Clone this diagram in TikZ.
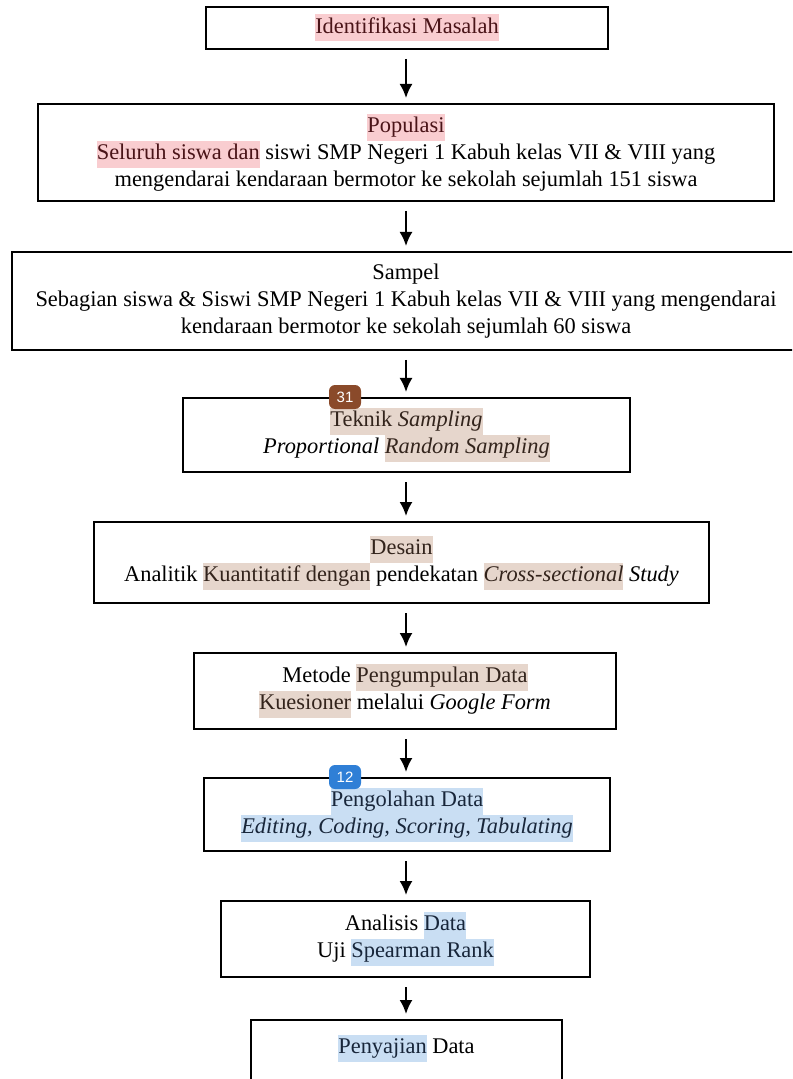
\documentclass[tikz,border=0pt]{standalone}
\usepackage{fontspec}
\setmainfont{Liberation Serif}
\setsansfont{Liberation Sans}
\usepackage{xcolor}
\usetikzlibrary{shapes,arrows.meta,positioning,fit}

\definecolor{markred}{HTML}{F9CDD0}
\definecolor{marktan}{HTML}{E6D6CC}
\definecolor{markblue}{HTML}{C9DEF3}
\definecolor{inkred}{HTML}{4A1418}
\definecolor{inktan}{HTML}{33241C}
\definecolor{inkblue}{HTML}{18263A}
\definecolor{badgebrown}{HTML}{8A4A2A}
\definecolor{badgeblue}{HTML}{2F7FD6}

\newcommand{\hlr}[1]{{\setlength{\fboxsep}{0pt}\colorbox{markred}{\strut\color{inkred}#1}}}
\newcommand{\hlt}[1]{{\setlength{\fboxsep}{0pt}\colorbox{marktan}{\strut\color{inktan}#1}}}
\newcommand{\hlb}[1]{{\setlength{\fboxsep}{0pt}\colorbox{markblue}{\strut\color{inkblue}#1}}}

\tikzset{badge/.style={draw=none,rounded corners=3pt,text=white,inner sep=0pt,
    minimum width=16pt,minimum height=12pt,font=\sffamily\fontsize{7.5}{8}\selectfont},
  flow/.style={->,line width=1pt,shorten <=4.5pt,shorten >=2.5pt}}

\begin{document}
\begin{tikzpicture}[x=0.5pt,y=-0.5pt,>={Latex[length=7pt,width=6.5pt]},
  every node/.style={align=center,draw,rectangle,line width=1pt,inner sep=0pt,
    font=\fontsize{11.2}{13.5}\selectfont}]
\useasboundingbox (0,0) rectangle (792,1079);
\clip (0,0) rectangle (792,1079);
\fill[white] (0,0) rectangle (792,1079);

\node[minimum width=201pt,minimum height=21pt] (idm) at (407,28) {\hlr{Identifikasi Masalah}};
\node[minimum width=368pt,minimum height=48.5pt] (pop) at (406,152.5) {\hlr{Populasi}\\
  \hlr{Seluruh siswa dan} siswi SMP Negeri 1 Kabuh kelas VII \& VIII yang\\
  mengendarai kendaraan bermotor ke sekolah sejumlah 151 siswa};
\node[minimum width=394pt,minimum height=49pt] (smp) at (406,301) {Sampel\\
  Sebagian siswa \& Siswi SMP Negeri 1 Kabuh kelas VII \& VIII yang mengendarai\\
  kendaraan bermotor ke sekolah sejumlah 60 siswa};
\node[minimum width=223.5pt,minimum height=37pt] (tek) at (406.5,435) {\hlt{Teknik \textit{Sampling}}\\
  \textit{Proportional} \hlt{\textit{Random Sampling}}};
\node[minimum width=307.5pt,minimum height=40.5pt] (des) at (401.5,562.5) {\hlt{Desain}\\
  Analitik \hlt{Kuantitatif dengan} pendekatan \hlt{\textit{Cross-sectional}} \textit{Study}};
\node[minimum width=211pt,minimum height=38pt] (met) at (405,691) {Metode \hlt{Pengumpulan Data}\\
  \hlt{Kuesioner} melalui \textit{Google Form}};
\node[minimum width=203pt,minimum height=36.5pt] (olah) at (407,814.5) {\hlb{Pengolahan Data}\\
  \hlb{\textit{Editing, Coding, Scoring, Tabulating}}};
\node[minimum width=184.5pt,minimum height=38pt] (anl) at (405.5,939) {Analisis \hlb{Data}\\
  Uji \hlb{Spearman Rank}};
\node[minimum width=155.5pt,minimum height=38pt] (saji) at (406.5,1058) {\hlb{Penyajian} Data\\ \mbox{}};

% markers on the box edges
\node[badge,fill=badgebrown] (b31) at (345,397) {31};
\node[badge,fill=badgeblue] (b12) at (345,777) {12};

\coordinate (axis) at (406,0);
\draw (idm.south -| axis) edge[flow] (pop.north -| axis)
  (pop.south -| axis) edge[flow] (smp.north -| axis)
  (smp.south -| axis) edge[flow] (tek.north -| axis)
  (tek.south -| axis) edge[flow] (des.north -| axis)
  (des.south -| axis) edge[flow] (met.north -| axis)
  (met.south -| axis) edge[flow] (olah.north -| axis)
  (olah.south -| axis) edge[flow] (anl.north -| axis)
  (anl.south -| axis) edge[flow] (saji.north -| axis);

\end{tikzpicture}
\end{document}
